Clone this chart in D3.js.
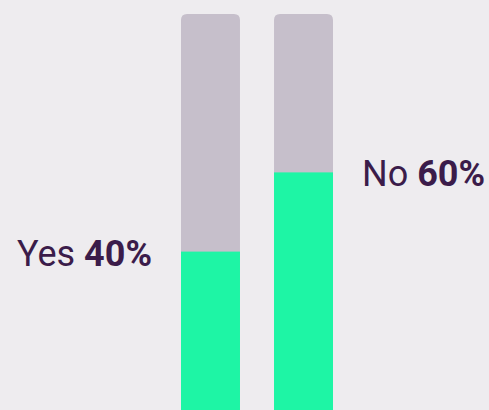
<!DOCTYPE html>
<html>
<head>
<meta charset="utf-8">
<script src="https://cdn.jsdelivr.net/npm/d3@7"></script>
<style>
  html, body { margin: 0; padding: 0; background: #eeecef; }
  svg { display: block; }
</style>
</head>
<body>
<div id="chart"></div>
<script>
// data
var answers = ["Yes", "No"];
var shares = [40, 60];
var labelSide = ["left", "right"];

var width = 489, height = 410;
var topY = 14;

var svg = d3.select("#chart").append("svg")
    .attr("width", width)
    .attr("height", height);

var x = d3.scaleBand()
    .domain(answers)
    .range([134.5, 379.5])
    .paddingInner(0.366)
    .paddingOuter(0.5);

var y = d3.scaleLinear()
    .domain([0, 100])
    .range([height, topY]);

// grey track with rounded top
svg.selectAll(".track")
    .data(answers)
    .enter()
    .append("path")
    .attr("class", "track")
    .attr("fill", "#c6bfcb")
    .attr("d", function(d) {
        var x0 = x(d), x1 = x(d) + x.bandwidth(), r = 6;
        var y0 = y(100), y1 = y(0);
        return "M" + x0 + "," + y1 + "V" + (y0 + r) + "Q" + x0 + "," + y0 + " " + (x0 + r) + "," + y0 +
            "H" + (x1 - r) + "Q" + x1 + "," + y0 + " " + x1 + "," + (y0 + r) + "V" + y1 + "Z";
    });

// green fill
svg.selectAll(".bar")
    .data(answers)
    .enter()
    .append("rect")
    .attr("class", "bar")
    .attr("fill", "#1ef5a5")
    .attr("x", function(d) { return x(d); })
    .attr("width", x.bandwidth())
    .attr("y", function(d, i) { return y(shares[i]); })
    .attr("height", function(d, i) { return y(0) - y(shares[i]); });

// labels
var labels = svg.selectAll(".label")
    .data(answers)
    .enter()
    .append("text")
    .attr("class", "label")
    .attr("font-family", "Roboto, sans-serif")
    .attr("font-size", 36)
    .attr("fill", "#3b1c4a")
    .attr("text-anchor", function(d, i) { return labelSide[i] == "left" ? "end" : "start"; })
    .attr("x", function(d, i) {
        return labelSide[i] == "left" ? x(d) - 29 : x(d) + x.bandwidth() + 29;
    })
    .attr("y", function(d, i) { return y(shares[i]) + 14; });

labels.append("tspan").text(function(d) { return d + " "; });
labels.append("tspan")
    .attr("font-weight", "bold")
    .text(function(d, i) { return shares[i] + "%"; });
</script>
</body>
</html>
